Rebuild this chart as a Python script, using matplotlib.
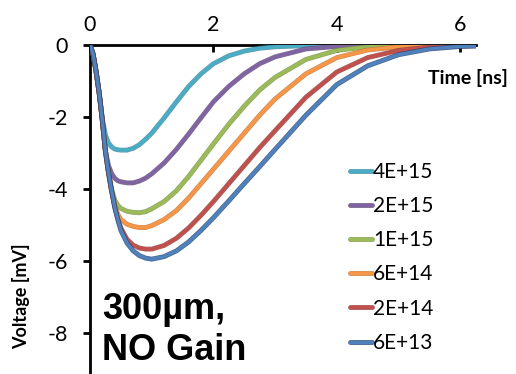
import matplotlib
matplotlib.use("Agg")
import matplotlib.pyplot as plt
import matplotlib.patheffects as pe

# time axis [ns]
t = [0, 0.05, 0.1, 0.15, 0.2, 0.25, 0.3, 0.35, 0.4, 0.45, 0.5, 0.6, 0.7, 0.8, 0.9, 1.0,
     1.2, 1.4, 1.6, 1.8, 2.0, 2.25, 2.5, 2.75, 3.0, 3.5, 4.0, 4.5, 5.0, 5.5, 6.0, 6.25]

# voltage [mV] for each fluence
v_4e15 = [0, -0.25, -0.75, -1.35, -2.05, -2.5, -2.72, -2.83, -2.89, -2.91, -2.92, -2.92, -2.87, -2.77, -2.62, -2.45,
          -2.03, -1.58, -1.15, -0.8, -0.52, -0.3, -0.17, -0.09, -0.05, -0.02, -0.01, 0, 0, 0, 0, 0]
v_2e15 = [0, -0.25, -0.75, -1.35, -2.1, -2.95, -3.35, -3.57, -3.7, -3.77, -3.8, -3.83, -3.83, -3.78, -3.7, -3.58,
          -3.28, -2.9, -2.47, -2.02, -1.58, -1.15, -0.8, -0.52, -0.33, -0.11, -0.04, -0.01, 0, 0, 0, 0]
v_1e15 = [0, -0.25, -0.75, -1.35, -2.1, -2.95, -3.55, -4.0, -4.3, -4.45, -4.54, -4.62, -4.65, -4.66, -4.63, -4.55,
          -4.35, -4.05, -3.65, -3.2, -2.75, -2.2, -1.7, -1.25, -0.9, -0.4, -0.15, -0.05, -0.02, -0.01, 0, 0]
v_6e14 = [0, -0.25, -0.75, -1.35, -2.1, -2.95, -3.55, -4.05, -4.45, -4.7, -4.85, -4.98, -5.04, -5.07, -5.07, -5.02,
          -4.85, -4.6, -4.25, -3.85, -3.45, -2.95, -2.45, -1.95, -1.5, -0.8, -0.35, -0.14, -0.05, -0.02, -0.01, 0]
v_2e14 = [0, -0.25, -0.75, -1.35, -2.1, -2.95, -3.55, -4.05, -4.5, -4.83, -5.08, -5.4, -5.56, -5.64, -5.67, -5.67,
          -5.57, -5.37, -5.08, -4.73, -4.35, -3.85, -3.35, -2.85, -2.38, -1.45, -0.75, -0.35, -0.15, -0.06, -0.03, -0.02]
v_6e13 = [0, -0.25, -0.75, -1.35, -2.1, -2.95, -3.55, -4.05, -4.5, -4.85, -5.15, -5.5, -5.72, -5.85, -5.92, -5.95,
          -5.88, -5.72, -5.47, -5.15, -4.8, -4.33, -3.85, -3.38, -2.9, -1.95, -1.1, -0.58, -0.27, -0.11, -0.04, -0.03]

labels = ['4E+15', '2E+15', '1E+15', '6E+14', '2E+14', '6E+13']
series = [v_4e15, v_2e15, v_1e15, v_6e14, v_2e14, v_6e13]
colors = ['#4bacc6', '#8064a2', '#9bbb59', '#f79646', '#c0504d', '#4f81bd']
edges = ['#3a8599', '#5f4a7a', '#76903f', '#c07333', '#923b39', '#1f3f6e']

plt.rcParams['font.family'] = ['Lato', 'DejaVu Sans']

fig = plt.figure(figsize=(5.16, 3.74), dpi=100)
ax = fig.add_axes([90 / 516, 0, 385.6 / 516, 1 - 45 / 374])

for v, c, e, lab in zip(series, colors, edges, labels):
    ax.plot(t, v, color=c, lw=2.5, label=lab, solid_capstyle='round', solid_joinstyle='round',
            path_effects=[pe.Stroke(linewidth=3.5, foreground=e, alpha=0.8), pe.Normal()])

ax.set_xlim(0, 6.25)
ax.set_ylim(-9.14, 0)
ax.set_xticks([0, 2, 4, 6])
ax.set_yticks([0, -2, -4, -6, -8])
ax.set_yticklabels(['0', '-2', '-4', '-6', '-8'])

ax.xaxis.tick_top()
ax.tick_params(axis='x', direction='in', length=5, width=2, labelsize=15.5, pad=7)
ax.tick_params(axis='y', direction='out', length=5, width=2, labelsize=15.5, pad=11)
for s in ['right', 'bottom']:
    ax.spines[s].set_visible(False)
for s in ['left', 'top']:
    ax.spines[s].set_linewidth(2)
    ax.spines[s].set_zorder(0.5)

fig.text(468 / 516, 1 - 78 / 374, 'Time [ns]', ha='center', va='center',
         fontsize=14, fontweight='bold')
fig.text(21 / 516, 1 - 296 / 374, 'Voltage [mV]', ha='center', va='center',
         rotation=90, fontsize=13, fontweight='bold')
fig.text(102 / 516, 1 - 292 / 374, '300µm,\nNO Gain', ha='left', va='top',
         fontsize=26, fontweight='bold', family='Liberation Sans', linespacing=1.22)

ax.legend(loc='upper left', bbox_to_anchor=(350 / 516, 1 - 162 / 374),
          bbox_transform=fig.transFigure, frameon=False, fontsize=15,
          handlelength=1.05, handletextpad=0.05, labelspacing=0.68,
          borderpad=0, borderaxespad=0)

fig.savefig('out.png', dpi=100)
